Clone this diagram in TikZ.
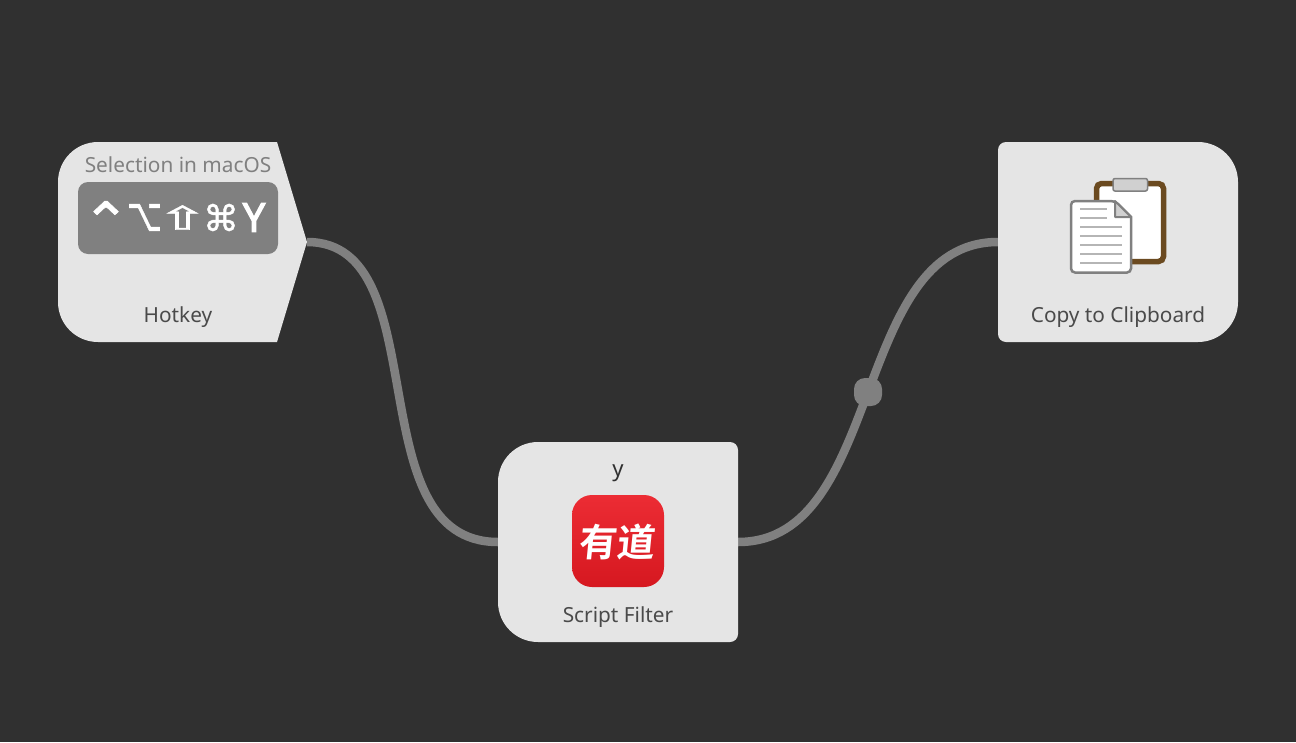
\documentclass[tikz,border=0pt]{standalone}
\usepackage{fontspec,graphicx}
\setmainfont{Noto Sans}
\newfontfamily\keyfont{DejaVu Sans}[FakeBold=1.2]
\newfontfamily\letterfont{Noto Sans}[FakeBold=3]
\newfontfamily\cjkfont{Noto Sans CJK SC}[BoldFont={Noto Sans CJK SC Bold}]
\usetikzlibrary{calc, positioning}
\definecolor{bgcolor}{RGB}{48,48,48}
\definecolor{cardcolor}{RGB}{229,229,229}
\definecolor{linecolor}{RGB}{128,128,128}
\definecolor{labelcolor}{RGB}{74,74,74}
\definecolor{brown1}{RGB}{107,74,32}
\definecolor{clipcolor}{RGB}{208,208,208}
\definecolor{rulecolor}{RGB}{181,181,181}
\definecolor{red1}{RGB}{236,44,52}
\definecolor{red2}{RGB}{214,24,32}
\tikzset{
    cardbox/.style={rectangle, minimum width=240pt, minimum height=200pt, inner sep=0pt, outer sep=0pt},
    wire/.style={linecolor, line width=8.5pt},
    cardlabel/.style={anchor=base, inner sep=0pt, text=labelcolor, font=\fontsize{20.8}{24}\selectfont},
    keyglyph/.style={inner sep=0pt, text=white, font=\keyfont\fontsize{36}{40}\selectfont},
}
\begin{document}
\begin{tikzpicture}[x=1pt, y=-1pt]
    \useasboundingbox (0,0) rectangle (1296,742);
    \fill[bgcolor] (0,0) rectangle (1296,742);

    \node[cardbox, minimum width=249pt] (hotkey) at (182.5,242) {};
    \node[cardbox] (filter) at (618,542) {};
    \node[cardbox] (clipboard) at (1118,242) {};

    \draw[wire] (hotkey.east) .. controls (439,242) and (355,542) .. (filter.west);
    \draw[wire] (filter.east) .. controls (885,542) and (851,242) .. (clipboard.west);
    \node[rectangle, fill=linecolor, minimum size=28pt, inner sep=0pt, rounded corners=11pt] (junction) at (868,392) {};

    \fill[cardcolor, rounded corners=40pt] ($(hotkey.north west)+(0,100)$) -- (hotkey.north west) -- ($(hotkey.north west)+(100,0)$) [sharp corners] -- ($(hotkey.north east)+(-30,0)$) -- (hotkey.east) -- ($(hotkey.south east)+(-30,0)$) -- ($(hotkey.south west)+(100,0)$) [rounded corners=40pt] -- (hotkey.south west) -- cycle;
    \fill[cardcolor, rounded corners=40pt] ($(filter.north west)+(0,100)$) -- (filter.north west) -- ($(filter.north east)+(-100,0)$) [rounded corners=8pt] -- (filter.north east) -- (filter.south east) -- ($(filter.south east)+(-100,0)$) [rounded corners=40pt] -- (filter.south west) -- cycle;
    \fill[cardcolor, rounded corners=40pt] ($(clipboard.north west)+(100,0)$) -- (clipboard.north east) -- (clipboard.south east) -- ($(clipboard.south west)+(100,0)$) [rounded corners=8pt] -- (clipboard.south west) -- (clipboard.north west) -- cycle;

    % hotkey
    \node[anchor=base, inner sep=0pt, text=linecolor, font=\fontsize{20.8}{24}\selectfont] (hotkeytitle) at (178,172) {Selection in macOS};
    \node[rectangle, fill=linecolor, minimum width=200pt, minimum height=72pt, inner sep=0pt, rounded corners=10pt] (keybox) at (178,218) {};
    \node[keyglyph] (key1) at (106,221) {\scalebox{1.6}[1.5]{^^^^2303}};
    \node[keyglyph] (key2) at (144.5,217.5) {\scalebox{0.85}[1.3]{^^^^2325}};
    \node[keyglyph] (key3) at (182.5,217.5) {\scalebox{1.7}[0.9]{^^^^21e7}};
    \node[keyglyph] (key4) at (221,217.5) {^^^^2318};
    \node[inner sep=0pt, text=white, font=\letterfont\fontsize{40}{44}\selectfont] (key5) at (254,217.5) {Y};
    \node[cardlabel] (hotkeylabel) at (178,322) {Hotkey};

    % script filter
    \node[anchor=base, inner sep=0pt, text=bgcolor, font=\fontsize{22}{26}\selectfont] (filtertitle) at (618,476) {y};
    \shade[top color=red1, bottom color=red2, rounded corners=20pt] (572,495) rectangle (664,587);
    \begin{scope}[shift={(618,542)}]
        \node[inner sep=0pt, text=white, transform shape, xslant=0.1, font=\cjkfont\bfseries\fontsize{38}{40}\selectfont] (youdao) at (0,0) {有道};
    \end{scope}
    \node[cardlabel] (filterlabel) at (618,622) {Script Filter};

    % copy to clipboard
    \filldraw[fill=white, draw=brown1, line width=5.5pt, rounded corners=5pt] (1096.5,183.5) rectangle (1163.5,261.5);
    \filldraw[fill=clipcolor, draw=linecolor, line width=1.5pt, rounded corners=2pt] (1113,178.5) rectangle (1147.5,191);
    \filldraw[fill=white, draw=linecolor, line width=2.5pt, rounded corners=4pt] (1071,201) -- (1115,201) [sharp corners] -- (1131,217) [rounded corners=4pt] -- (1131,272.5) -- (1071,272.5) -- cycle;
    \filldraw[fill=clipcolor, draw=linecolor, line width=2pt, line join=round] (1115,201) -- (1131,217) -- (1115,217) -- cycle;
    \foreach \y in {209,218} \draw[rulecolor, line width=2pt] (1080,\y) -- (1107,\y);
    \foreach \y in {227,236,245,254,263} \draw[rulecolor, line width=2pt] (1080,\y) -- (1122,\y);
    \node[cardlabel] (clipboardlabel) at (1118,322) {Copy to Clipboard};
\end{tikzpicture}
\end{document}
